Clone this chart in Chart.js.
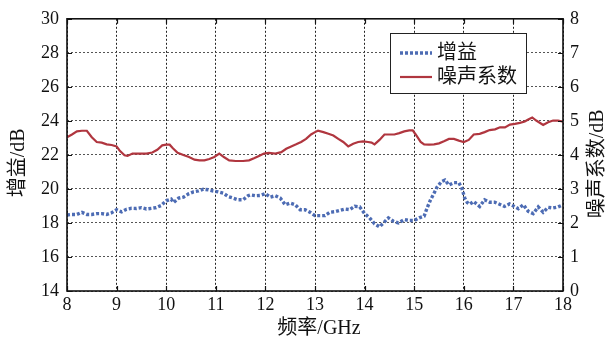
<!DOCTYPE html>
<html>
<head>
<meta charset="utf-8">
<script src="https://cdn.jsdelivr.net/npm/chart.js@4"></script>
<style>
  html, body { margin: 0; padding: 0; background: #fff; }
  #wrap { width: 609px; height: 340px; }
</style>
</head>
<body>
<div id="wrap"><canvas id="c" width="609" height="340"></canvas></div>
<script>
// Gain (dB) against frequency (GHz)
const gainFreq = [8.0, 8.1, 8.2, 8.3, 8.4, 8.5, 8.6, 8.7, 8.8, 8.9, 9.0, 9.1, 9.2, 9.3, 9.4, 9.5, 9.6, 9.7, 9.8, 9.9,
  10.0, 10.1, 10.15, 10.25, 10.35, 10.45, 10.55, 10.65, 10.75, 10.85, 10.95, 11.05, 11.15, 11.25, 11.35, 11.45, 11.55, 11.65, 11.7, 11.8, 11.9,
  12.0, 12.1, 12.2, 12.3, 12.4, 12.5, 12.6, 12.7, 12.8, 12.9, 13.0, 13.1, 13.2, 13.3, 13.4, 13.5, 13.6, 13.7, 13.8, 13.9,
  14.0, 14.1, 14.2, 14.3, 14.38, 14.48, 14.58, 14.68, 14.8, 14.9, 15.0, 15.1, 15.2, 15.26, 15.33, 15.4, 15.46, 15.55, 15.62, 15.7, 15.8, 15.9, 15.96,
  16.02, 16.07, 16.12, 16.2, 16.32, 16.42, 16.52, 16.62, 16.72, 16.82, 16.92, 17.02, 17.1, 17.2, 17.3, 17.4, 17.5, 17.6, 17.7, 17.8, 17.9, 18.0];
const gainValues = [18.47, 18.5, 18.5, 18.62, 18.5, 18.5, 18.55, 18.55, 18.5, 18.6, 18.78, 18.65, 18.8, 18.86, 18.85, 18.9, 18.82, 18.86, 18.9, 19.03,
  19.3, 19.4, 19.2, 19.46, 19.52, 19.71, 19.83, 19.88, 19.98, 19.95, 19.88, 19.83, 19.75, 19.55, 19.46, 19.36, 19.36, 19.6, 19.65, 19.6, 19.62,
  19.72, 19.52, 19.6, 19.46, 19.07, 19.17, 19.07, 18.78, 18.78, 18.63, 18.43, 18.43, 18.43, 18.63, 18.66, 18.74, 18.82, 18.78, 18.98, 18.95,
  18.55, 18.3, 17.95, 17.77, 18.0, 18.3, 18.1, 18.0, 18.2, 18.14, 18.14, 18.3, 18.4, 18.88, 19.36, 19.75, 20.1, 20.43, 20.52, 20.23, 20.37, 20.37, 20.04,
  19.46, 19.2, 19.1, 19.26, 18.97, 19.36, 19.22, 19.22, 19.1, 18.97, 19.12, 18.97, 18.84, 19.07, 18.68, 18.55, 18.94, 18.63, 18.92, 18.88, 18.94, 19.07];

// Noise figure (dB) against frequency (GHz)
const noiseFreq = [8.0, 8.1, 8.2, 8.3, 8.4, 8.5, 8.6, 8.7, 8.8, 8.9, 9.0, 9.06, 9.16, 9.22, 9.32, 9.45, 9.6, 9.72, 9.82, 9.92,
  10.0, 10.07, 10.13, 10.23, 10.36, 10.46, 10.57, 10.67, 10.77, 10.87, 10.97, 11.07, 11.17, 11.27, 11.4, 11.55, 11.67, 11.77, 11.87, 11.97,
  12.07, 12.2, 12.32, 12.42, 12.52, 12.62, 12.72, 12.82, 12.92, 13.0, 13.06, 13.17, 13.27, 13.37, 13.47, 13.57, 13.67, 13.77, 13.87, 13.97,
  14.07, 14.14, 14.2, 14.3, 14.4, 14.6, 14.7, 14.8, 14.9, 14.97, 15.03, 15.13, 15.2, 15.3, 15.4, 15.5, 15.6, 15.7, 15.8, 15.9,
  16.0, 16.1, 16.2, 16.32, 16.42, 16.52, 16.63, 16.73, 16.83, 16.93, 17.03, 17.13, 17.23, 17.3, 17.38, 17.46, 17.6, 17.7, 17.8, 17.9, 18.0];
const noiseValues = [4.52, 4.6, 4.69, 4.71, 4.71, 4.52, 4.38, 4.36, 4.31, 4.29, 4.25, 4.13, 3.99, 3.97, 4.04, 4.04, 4.04, 4.07, 4.15, 4.28,
  4.3, 4.3, 4.2, 4.06, 3.99, 3.94, 3.86, 3.84, 3.84, 3.88, 3.94, 4.04, 3.93, 3.84, 3.82, 3.82, 3.84, 3.9, 3.97, 4.04,
  4.06, 4.04, 4.08, 4.18, 4.25, 4.31, 4.38, 4.47, 4.6, 4.67, 4.71, 4.67, 4.62, 4.57, 4.47, 4.38, 4.25, 4.33, 4.38, 4.4,
  4.38, 4.36, 4.31, 4.44, 4.6, 4.6, 4.64, 4.69, 4.72, 4.72, 4.6, 4.38, 4.31, 4.3, 4.31, 4.34, 4.4, 4.47, 4.47, 4.42,
  4.38, 4.44, 4.6, 4.62, 4.67, 4.73, 4.75, 4.81, 4.81, 4.89, 4.91, 4.94, 4.98, 5.04, 5.1, 5.01, 4.88, 4.96, 5.01, 5.01, 4.98];

// Axis ranges and captions
const freqRange = [8, 18];
const gainRange = [14, 30];
const noiseRange = [0, 8];
const xTitle = '频率/GHz';
const yTitle = '增益/dB';
const y2Title = '噪声系数/dB';
const seriesNames = ['增益', '噪声系数'];

const GAIN_COLOR = '#4d6cb4';
const NOISE_COLOR = '#b0363f';
const TEXT_COLOR = '#111';
const TICK_FONT = "'Liberation Serif', 'Times New Roman', serif";
const TITLE_FONT = "20px 'Liberation Serif', 'Noto Sans CJK SC', serif";
const GAIN_DASH = [3, 2];

const toPoints = (xs, ys) => xs.map((x, i) => ({ x: x, y: ys[i] }));

// Frame, inward tick marks, axis captions and the boxed legend
const decorations = {
  id: 'decorations',
  afterDraw(chart) {
    const { ctx, chartArea: a, scales } = chart;
    ctx.save();
    const tl = 5;
    ctx.strokeStyle = '#111';
    ctx.lineWidth = 1.2;
    ctx.beginPath();
    scales.x.ticks.forEach(t => {
      const px = Math.round(scales.x.getPixelForValue(t.value)) + 0.5;
      ctx.moveTo(px, a.bottom); ctx.lineTo(px, a.bottom - tl);
      ctx.moveTo(px, a.top); ctx.lineTo(px, a.top + tl);
    });
    scales.y.ticks.forEach(t => {
      const py = Math.round(scales.y.getPixelForValue(t.value)) + 0.5;
      ctx.moveTo(a.left, py); ctx.lineTo(a.left + tl, py);
    });
    scales.y2.ticks.forEach(t => {
      const py = Math.round(scales.y2.getPixelForValue(t.value)) + 0.5;
      ctx.moveTo(a.right, py); ctx.lineTo(a.right - tl, py);
    });
    ctx.stroke();

    // plot frame
    ctx.lineWidth = 1.6;
    ctx.strokeStyle = '#111';
    ctx.strokeRect(a.left, a.top, a.right - a.left, a.bottom - a.top);

    // axis captions
    ctx.fillStyle = TEXT_COLOR;
    ctx.font = TITLE_FONT;
    ctx.textAlign = 'center';
    ctx.textBaseline = 'middle';
    ctx.fillText(xTitle, (a.left + a.right) / 2 + 4, 329);
    ctx.save();
    ctx.translate(19, (a.top + a.bottom) / 2 + 8);
    ctx.rotate(-Math.PI / 2);
    ctx.fillText(yTitle, 0, 0);
    ctx.restore();
    ctx.save();
    ctx.translate(598, (a.top + a.bottom) / 2 + 9);
    ctx.rotate(-Math.PI / 2);
    ctx.fillText(y2Title, 0, 0);
    ctx.restore();

    // legend box
    const bx = 390.5, by = 33.5, bw = 136, bh = 60;
    ctx.fillStyle = '#fff';
    ctx.fillRect(bx, by, bw, bh);
    ctx.lineWidth = 1;
    ctx.strokeStyle = '#222';
    ctx.strokeRect(bx, by, bw, bh);
    const rows = [53, 77];
    chart.data.datasets.forEach((ds, i) => {
      ctx.beginPath();
      ctx.strokeStyle = ds.borderColor;
      ctx.lineWidth = ds.borderWidth;
      ctx.setLineDash(ds.borderDash || []);
      ctx.moveTo(400, rows[i]);
      ctx.lineTo(432, rows[i]);
      ctx.stroke();
      ctx.setLineDash([]);
      ctx.fillStyle = TEXT_COLOR;
      ctx.font = TITLE_FONT;
      ctx.textAlign = 'left';
      ctx.textBaseline = 'middle';
      ctx.fillText(ds.label, 437, rows[i] + 1);
    });
    ctx.restore();
  }
};

new Chart(document.getElementById('c'), {
  type: 'line',
  data: {
    datasets: [
      {
        label: seriesNames[0],
        data: toPoints(gainFreq, gainValues),
        yAxisID: 'y',
        borderColor: GAIN_COLOR,
        borderWidth: 3.4,
        borderDash: GAIN_DASH,
        borderCapStyle: 'butt',
        pointRadius: 0,
        tension: 0,
        fill: false
      },
      {
        label: seriesNames[1],
        data: toPoints(noiseFreq, noiseValues),
        yAxisID: 'y2',
        borderColor: NOISE_COLOR,
        borderWidth: 2.2,
        pointRadius: 0,
        tension: 0,
        fill: false
      }
    ]
  },
  options: {
    responsive: false,
    animation: false,
    layout: { padding: { top: 17, left: 0, right: 0, bottom: 0 } },
    plugins: { legend: { display: false }, tooltip: { enabled: false } },
    scales: {
      x: {
        type: 'linear',
        min: freqRange[0], max: freqRange[1],
        ticks: { stepSize: 1, color: TEXT_COLOR, font: { family: TICK_FONT, size: 18 }, padding: 3, maxRotation: 0 },
        grid: { color: '#222', lineWidth: 1, drawTicks: false },
        border: { display: false, dash: [2, 2] },
        afterFit(s) { s.height = 49; }
      },
      y: {
        position: 'left',
        min: gainRange[0], max: gainRange[1],
        ticks: { stepSize: 2, color: TEXT_COLOR, font: { family: TICK_FONT, size: 18 }, padding: 8 },
        grid: { color: '#555', lineWidth: 1, drawTicks: false },
        border: { display: false, dash: [2, 2] },
        afterFit(s) { s.width = 67; }
      },
      y2: {
        position: 'right',
        min: noiseRange[0], max: noiseRange[1],
        ticks: { stepSize: 1, color: TEXT_COLOR, font: { family: TICK_FONT, size: 18 }, padding: 7 },
        grid: { display: false, drawTicks: false },
        border: { display: false },
        afterFit(s) { s.width = 46; }
      }
    }
  },
  plugins: [decorations]
});
</script>
</body>
</html>
